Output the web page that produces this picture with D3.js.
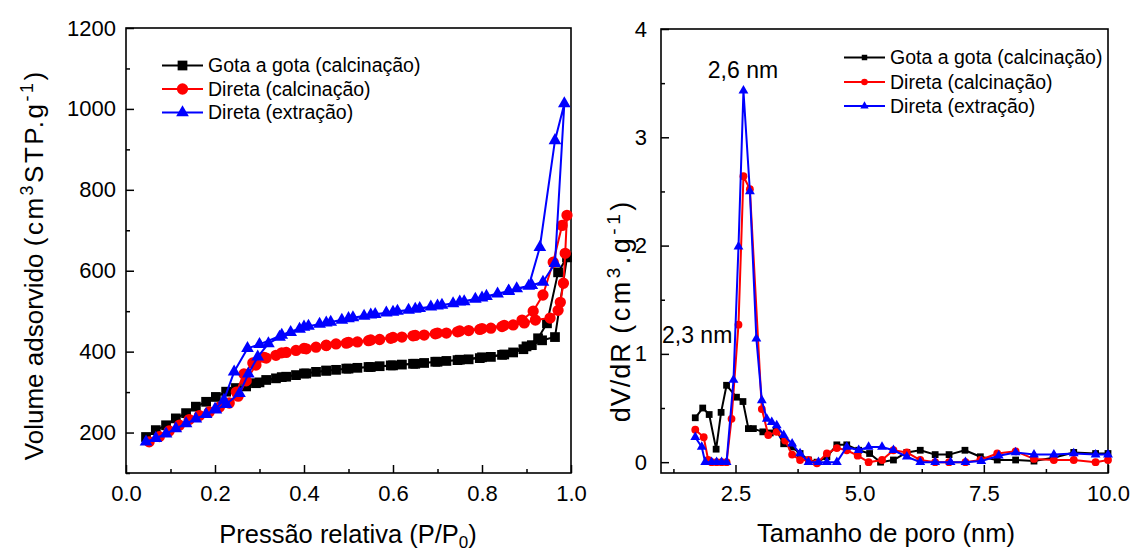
<!DOCTYPE html>
<html><head><meta charset="utf-8">
<script src="https://cdn.jsdelivr.net/npm/d3@7"></script>
<style>body{margin:0;background:#fff;} svg{display:block;font-family:"Liberation Sans",Arial,sans-serif;}</style>
</head><body><svg id="c" width="1131" height="549"></svg>
<script>
// ---------- data ----------
const seriesNames = ["Gota a gota (calcinação)", "Direta (calcinação)", "Direta (extração)"];
const seriesColors = ["#000000", "#ff0000", "#0000ff"];

// Left: N2 isotherms (adsorption then desorption), P/P0 and volume
const blackIsoP = [0.045,0.067,0.09,0.112,0.135,0.157,0.18,0.202,0.225,0.247,0.27,0.292,0.315,0.337,0.36,0.382,0.405,0.427,0.45,0.472,0.495,0.52,0.545,0.57,0.595,0.62,0.645,0.67,0.695,0.72,0.745,0.77,0.795,0.82,0.845,0.87,0.893,0.912,0.935,0.964,0.991,0.971,0.946,0.926,0.90,0.85,0.80,0.75,0.70,0.65,0.60,0.55,0.50,0.45,0.40,0.35,0.30];
const blackIsoV = [189,206,218,235,248,264,276,288,301,310,314,322,330,334,338,342,346,350,353,355,358,360,362,364,366,368,370,372,375,377,379,381,384,387,392,398,406,416,428,436,633,596,470,433,413,393,386,380,375,370,366,362,358,353,346,337,324];

const redIsoP = [0.052,0.075,0.097,0.12,0.142,0.165,0.187,0.21,0.232,0.252,0.27,0.292,0.315,0.337,0.36,0.382,0.405,0.427,0.45,0.472,0.495,0.52,0.545,0.57,0.595,0.62,0.645,0.67,0.695,0.72,0.745,0.77,0.795,0.82,0.845,0.87,0.895,0.92,0.953,0.971,0.976,0.983,0.987,0.991,0.98,0.96,0.937,0.915,0.89,0.85,0.80,0.75,0.70,0.65,0.60,0.55,0.50,0.45,0.40,0.35,0.31,0.285,0.265,0.248];
const redIsoV = [177,190,204,218,232,242,251,263,273,290,328,367,384,391,398,403,407,411,415,419,421,424,427,430,433,436,439,441,444,446,449,452,455,458,462,466,471,478,483,502,522,569,643,737,712,621,540,500,478,465,457,451,446,440,435,429,423,416,408,397,386,372,345,300];

const blueIsoP = [0.045,0.067,0.09,0.112,0.135,0.157,0.18,0.202,0.225,0.255,0.275,0.296,0.32,0.345,0.37,0.39,0.41,0.435,0.46,0.485,0.51,0.535,0.56,0.585,0.61,0.635,0.66,0.685,0.71,0.735,0.76,0.785,0.81,0.835,0.86,0.878,0.912,0.937,0.964,0.985,0.964,0.93,0.905,0.86,0.80,0.75,0.70,0.65,0.60,0.55,0.50,0.45,0.40,0.35,0.30,0.273,0.243,0.22,0.20];
const blueIsoV = [177,186,197,210,222,234,245,256,270,297,345,387,420,436,448,456,463,468,473,478,484,488,492,496,500,503,507,511,515,519,524,530,537,543,550,556,564,572,618,1013,922,658,562,549,533,523,513,505,498,491,482,471,461,441,418,408,350,280,258];

// Right: pore size distributions, pore size (nm) and dV/dR
const blackPsdD = [1.69,1.84,1.97,2.11,2.21,2.32,2.52,2.65,2.76,2.86,3.05,3.20,3.32,3.47,3.64,3.80,3.97,4.14,4.34,4.54,4.74,4.98,5.20,5.42,5.68,5.95,6.22,6.52,6.80,7.12,7.43,7.77,8.14,8.51,8.90,9.31,9.75,10.0];
const blackPsdV = [0.41,0.50,0.44,0.12,0.46,0.71,0.60,0.56,0.31,0.31,0.28,0.27,0.30,0.17,0.14,0.08,0.02,0.00,0.05,0.16,0.16,0.11,0.08,0.00,0.02,0.09,0.11,0.07,0.07,0.11,0.05,0.02,0.02,0.01,0.04,0.09,0.08,0.08];

const redPsdD = [1.69,1.86,1.95,2.02,2.12,2.22,2.32,2.42,2.56,2.66,2.79,3.03,3.16,3.33,3.50,3.64,3.80,3.97,4.14,4.34,4.54,4.74,4.96,5.18,5.45,5.68,5.95,6.22,6.52,6.80,7.13,7.43,7.77,8.14,8.51,8.91,9.31,9.75,10.0];
const redPsdV = [0.30,0.23,0.02,0.00,0.00,0.00,0.00,0.40,1.27,2.64,2.52,0.49,0.25,0.28,0.20,0.07,0.02,0.02,-0.01,0.08,0.13,0.11,0.06,0.00,0.02,0.11,0.09,0.02,0.00,0.00,0.00,0.02,0.08,0.10,0.03,0.02,0.02,0.00,0.02];

const bluePsdD = [1.69,1.82,1.89,2.02,2.12,2.22,2.32,2.46,2.56,2.66,2.79,2.92,3.03,3.13,3.23,3.33,3.47,3.64,3.80,3.97,4.17,4.34,4.54,4.74,4.98,5.18,5.45,5.68,5.95,6.22,6.52,6.83,7.13,7.45,7.80,8.14,8.51,8.91,9.31,9.75,10.0];
const bluePsdV = [0.23,0.14,0.00,0.00,0.00,0.00,0.00,0.76,1.99,3.43,2.50,1.14,0.57,0.40,0.37,0.34,0.25,0.17,0.08,0.00,0.00,0.00,0.00,0.14,0.11,0.14,0.14,0.11,0.05,0.00,0.00,0.00,0.00,0.01,0.06,0.09,0.07,0.07,0.08,0.07,0.07];

// ticks
const leftXTicks = [0,0.2,0.4,0.6,0.8,1.0];
const leftXMinor = [0.1,0.3,0.5,0.7,0.9];
const leftYTicks = [200,400,600,800,1000,1200];
const leftYMinor = [100,300,500,700,900,1100];
const rightXTicks = [2.5,5.0,7.5,10.0];
const rightXMinor = [1.25,3.75,6.25,8.75];
const rightYTicks = [0,1,2,3,4];
const rightYMinor = [0.5,1.5,2.5,3.5];

// ---------- drawing ----------
const svg = d3.select("#c");
const zip = (a,b) => a.map((v,i)=>[v,b[i]]);

const xL = d3.scaleLinear([0,1],[126,571]);
const yL = d3.scaleLinear([100,1200],[473,28]);
const xR = d3.scaleLinear([1,10],[661,1108]);
const yR = d3.scaleLinear([-0.1,4],[473,29]);

function axes(x, y, xt, xm, yt, ym, xfmt, yfmt, ypad) {
  const g = svg.append("g");
  const bottom = y.range()[0], left = x.range()[0];
  const ax = g.append("g").attr("transform",`translate(0,${bottom})`)
    .call(d3.axisBottom(x).tickValues(xt).tickFormat(xfmt).tickSize(-8).tickPadding(12));
  const axm = g.append("g").attr("transform",`translate(0,${bottom})`)
    .call(d3.axisBottom(x).tickValues(xm).tickFormat("").tickSize(-4));
  const ay = g.append("g").attr("transform",`translate(${left},0)`)
    .call(d3.axisLeft(y).tickValues(yt).tickFormat(yfmt).tickSize(-8).tickPadding(ypad));
  const aym = g.append("g").attr("transform",`translate(${left},0)`)
    .call(d3.axisLeft(y).tickValues(ym).tickFormat("").tickSize(-4));
  [ax,axm,ay,aym].forEach(a=>{
    a.select(".domain").remove();
    a.selectAll("line").attr("stroke","#000").attr("stroke-width",1.5);
    a.selectAll("text").attr("font-size",22).attr("fill","#000")
      .attr("font-family","'Liberation Sans',Arial,sans-serif");
  });
  g.append("rect").attr("x",x.range()[0]).attr("y",y.range()[1])
    .attr("width",x.range()[1]-x.range()[0]).attr("height",y.range()[0]-y.range()[1])
    .attr("fill","none").attr("stroke","#000").attr("stroke-width",1.6);
}

axes(xL,yL,leftXTicks,leftXMinor,leftYTicks,leftYMinor,d3.format(".1f"),d3.format("d"),10);
axes(xR,yR,rightXTicks,rightXMinor,rightYTicks,rightYMinor,d3.format(".1f"),d3.format("d"),14);

const symTypes = [d3.symbolSquare, d3.symbolCircle, d3.symbolTriangle];

function drawSeries(x, y, data, i, sizes, lw) {
  const g = svg.append("g");
  g.append("path").datum(data)
    .attr("d", d3.line().x(d=>x(d[0])).y(d=>y(d[1])))
    .attr("fill","none").attr("stroke",seriesColors[i]).attr("stroke-width",lw)
    .attr("stroke-linejoin","round");
  g.selectAll("path.m").data(data).join("path").attr("class","m")
    .attr("transform",d=>`translate(${x(d[0])},${y(d[1])})`)
    .attr("d", d3.symbol(symTypes[i], sizes[i]))
    .attr("fill",seriesColors[i]);
}

const leftSizes = [95, 100, 70];
const rightSizes = [46, 48, 42];
const isoData = [zip(blackIsoP,blackIsoV), zip(redIsoP,redIsoV), zip(blueIsoP,blueIsoV)];
const psdData = [zip(blackPsdD,blackPsdV), zip(redPsdD,redPsdV), zip(bluePsdD,bluePsdV)];
isoData.forEach((d,i)=>drawSeries(xL,yL,d,i,leftSizes,2));
psdData.forEach((d,i)=>drawSeries(xR,yR,d,i,rightSizes,2));

// legends
function legend(x0, y0s, sizes, fs) {
  seriesNames.forEach((name,i)=>{
    const g = svg.append("g").attr("transform",`translate(${x0},${y0s[i]})`);
    g.append("line").attr("x1",0).attr("x2",41).attr("y1",0).attr("y2",0)
      .attr("stroke",seriesColors[i]).attr("stroke-width",2);
    g.append("path").attr("transform","translate(20.5,0)")
      .attr("d",d3.symbol(symTypes[i],sizes[i])).attr("fill",seriesColors[i]);
    g.append("text").attr("x",46).attr("y",0).attr("dy","0.35em")
      .attr("font-size",fs).attr("fill","#000").text(name);
  });
}
legend(162,[65.5,89,112.5],leftSizes,19.5);
legend(844,[57.5,82,106],[30,34,30],19.5);

// axis titles
svg.append("text").attr("x",348).attr("y",543).attr("text-anchor","middle")
  .attr("font-size",25.5).text("Pressão relativa (P/P")
  .append("tspan").attr("font-size",17).attr("dy",5).text("0")
  .select(function(){return this.parentNode;})
  .append("tspan").attr("dy",-5).text(")");
svg.append("text").attr("x",886).attr("y",542).attr("text-anchor","middle")
  .attr("font-size",25.5).text("Tamanho de poro (nm)");

const yt1 = svg.append("text").attr("transform","translate(43,266) rotate(-90)")
  .attr("text-anchor","middle").attr("font-size",26);
yt1.append("tspan").text("Volume adsorvido ");
yt1.append("tspan").attr("letter-spacing",2.5).text("(cm");
yt1.append("tspan").attr("font-size",18).attr("dy",-10).attr("letter-spacing",2.5).text("3");
yt1.append("tspan").attr("dy",10).attr("letter-spacing",2.5).text("STP.g");
yt1.append("tspan").attr("font-size",18).attr("dy",-10).attr("letter-spacing",2.5).text("-1");
yt1.append("tspan").attr("dy",10).text(")");

const yt2 = svg.append("text").attr("transform","translate(630,312) rotate(-90)")
  .attr("text-anchor","middle").attr("font-size",27);
yt2.append("tspan").attr("letter-spacing",1).text("dV/dR ");
yt2.append("tspan").attr("letter-spacing",3.5).text("(cm");
yt2.append("tspan").attr("font-size",19).attr("dy",-10).attr("letter-spacing",3.5).text("3");
yt2.append("tspan").attr("dy",10).attr("letter-spacing",3.5).text(".g");
yt2.append("tspan").attr("font-size",19).attr("dy",-10).attr("letter-spacing",3.5).text("-1");
yt2.append("tspan").attr("dy",10).text(")");

// annotations
svg.append("text").attr("x",743).attr("y",78).attr("text-anchor","middle")
  .attr("font-size",23).text("2,6 nm");
svg.append("text").attr("x",662).attr("y",343).attr("text-anchor","start")
  .attr("font-size",23).text("2,3 nm");
</script></body></html>
